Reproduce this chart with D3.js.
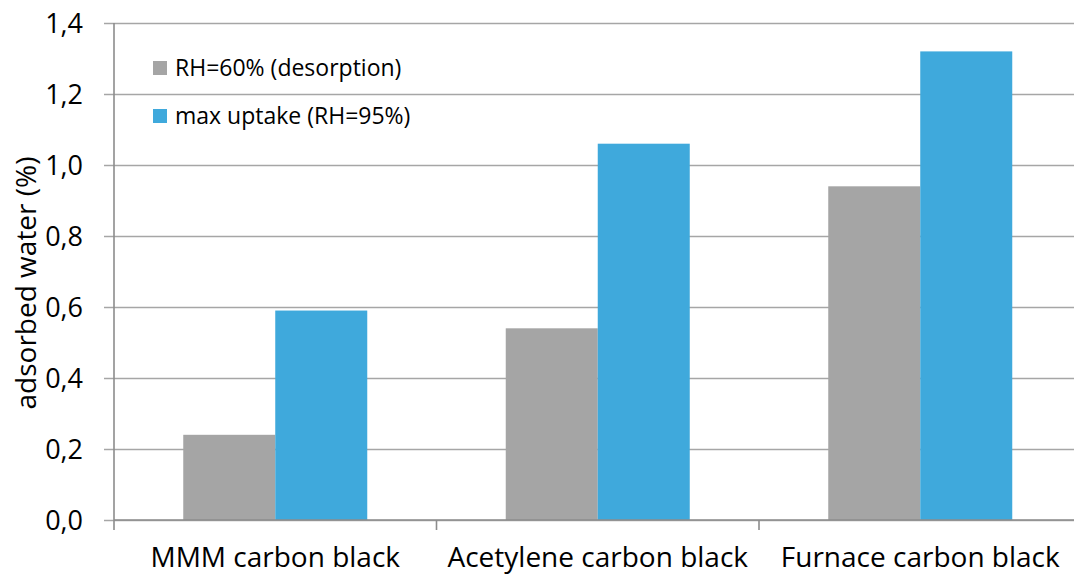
<!DOCTYPE html>
<html><head><meta charset="utf-8">
<script src="https://cdn.jsdelivr.net/npm/d3@7"></script>
<style>body{margin:0;background:#fff}svg{display:block}text{font-family:"Open Sans",sans-serif;fill:#000}</style>
</head><body><svg id="c" width="1074" height="576"></svg>
<script>
const categories = ["MMM carbon black", "Acetylene carbon black", "Furnace carbon black"];
const seriesNames = ["RH=60% (desorption)", "max uptake (RH=95%)"];
const desorption60 = [0.24, 0.54, 0.94];
const maxUptake95 = [0.59, 1.06, 1.32];
const yTicks = [0, 0.2, 0.4, 0.6, 0.8, 1.0, 1.2, 1.4];
const colors = ["#a5a5a5", "#3fa9dc"];

(function () {
const svg = d3.select("#c");
const L = 114, R = 1081.5, T = 23, B = 520;
const x0 = d3.scaleBand().domain(categories).range([L, R]).paddingInner(0).paddingOuter(0);
const x1 = d3.scaleBand().domain(seriesNames).range([x0.bandwidth()*69.25/322.5, x0.bandwidth()*(1-69.25/322.5)]);
const y = d3.scaleLinear().domain([0, 1.4]).range([B, T]);
const fmt = d => d.toFixed(1).replace(".", ",");

const yAxis = d3.axisLeft(y).tickValues(yTicks).tickFormat(fmt).tickSize(-(R-L)).tickSizeOuter(0).tickPadding(31);
const gy = svg.append("g").attr("transform", `translate(${L},0)`).call(yAxis);
gy.select(".domain").remove();
gy.selectAll(".tick line").attr("stroke", "#a6a6a6").attr("stroke-width", 1.6).attr("x1", -10);
gy.selectAll(".tick text").style("font-size", "27px").attr("fill", "#000").attr("dy", "0.36em");

const data = categories.map((c, i) => ({c, vals: [desorption60[i], maxUptake95[i]]}));
const g = svg.append("g");
data.forEach(d => {
  d.vals.forEach((v, j) => {
    g.append("rect")
      .attr("x", x0(d.c) + x1(seriesNames[j]))
      .attr("width", x1.bandwidth())
      .attr("y", y(v))
      .attr("height", y(0) - y(v))
      .attr("fill", colors[j]);
  });
});

const xAxis = d3.axisBottom(x0).tickSize(0).tickPadding(0);
const gx = svg.append("g").attr("transform", `translate(0,${B})`).call(xAxis);
gx.select(".domain").remove();
gx.selectAll(".tick text").style("font-size", "28px").attr("fill", "#000").attr("dy", null).attr("y", 47);
const bounds = [L, ...categories.map(c => x0(c) + x0.bandwidth())];
svg.append("g").selectAll("line").data(bounds).join("line")
  .attr("x1", d => d).attr("x2", d => d).attr("y1", B).attr("y2", B + 10)
  .attr("stroke", "#8c8c8c").attr("stroke-width", 1.6);
svg.append("line").attr("x1", L).attr("x2", R).attr("y1", B).attr("y2", B)
  .attr("stroke", "#8c8c8c").attr("stroke-width", 1.6);
svg.append("line").attr("x1", L).attr("x2", L).attr("y1", T).attr("y2", B)
  .attr("stroke", "#8c8c8c").attr("stroke-width", 1.6);

svg.append("text").attr("transform", `translate(36,283) rotate(-90)`)
  .attr("text-anchor", "middle").style("font-size", "28px").text("adsorbed water (%)");

const lg = svg.append("g");
seriesNames.forEach((s, i) => {
  const yy = 68 + i * 48;
  lg.append("rect").attr("x", 153).attr("y", yy - 7).attr("width", 14).attr("height", 14).attr("fill", colors[i]);
  lg.append("text").attr("x", 175).attr("y", yy).attr("dy", "0.35em").style("font-size", "23px").text(s);
});
})();
</script></body></html>
